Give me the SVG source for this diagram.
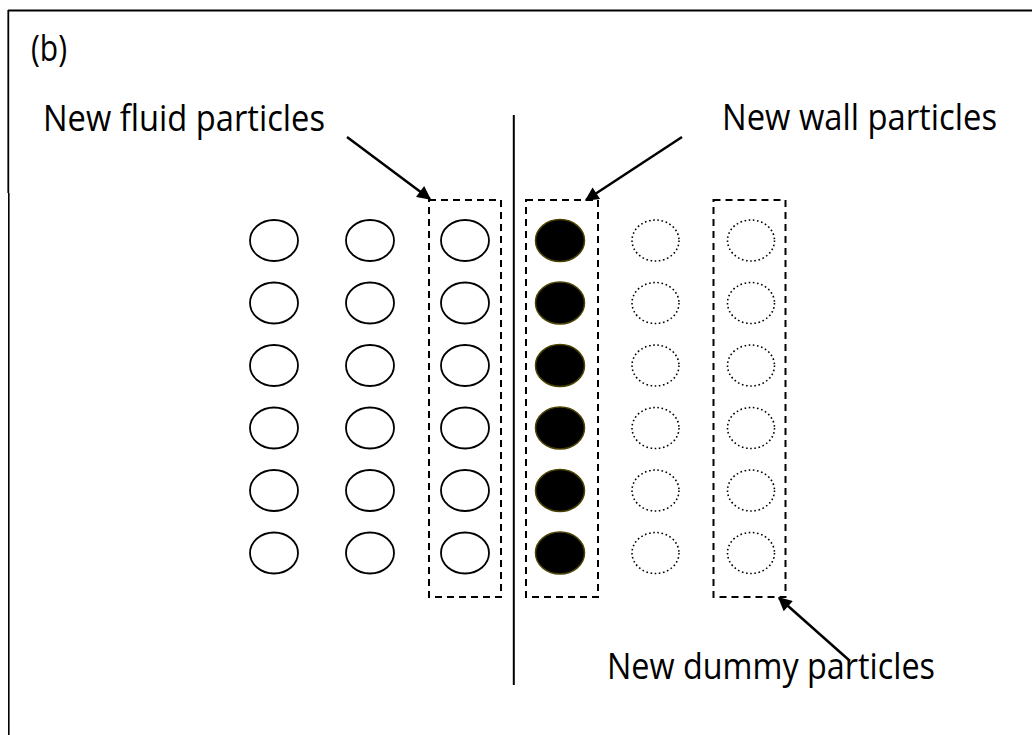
<svg xmlns="http://www.w3.org/2000/svg" width="1032" height="735" viewBox="0 0 1032 735">
<defs>
<style>
.lbl{font-family:"Open Sans","Liberation Sans",sans-serif;font-size:37px;fill:#000}
.fluid{fill:#fff;stroke:#000;stroke-width:1.8}
.wall{fill:#000;stroke:#4a4200;stroke-width:1.5}
.dummy{fill:none;stroke:#000;stroke-width:1.6;stroke-dasharray:1.6 2.6}
.box{fill:none;stroke:#000;stroke-width:2;stroke-dasharray:7 5}
.arr{stroke:#000;stroke-width:2.5;fill:none;marker-end:url(#ah)}
</style>
<marker id="ah" viewBox="0 0 10 10" refX="9" refY="5" markerWidth="6.5" markerHeight="5.5" markerUnits="strokeWidth" orient="auto">
<path d="M0,0 L10,5 L0,10 z" fill="#000"/>
</marker>
</defs>
<rect x="0" y="0" width="1032" height="735" fill="#fff"/>
<g id="frame">
<line x1="8" y1="10.5" x2="1032" y2="10.5" stroke="#000" stroke-width="1.8"/>
<line x1="8.3" y1="10" x2="8.3" y2="193" stroke="#000" stroke-width="1.8"/>
<line x1="8.8" y1="193" x2="8.8" y2="735" stroke="#000" stroke-width="1.6"/>
</g>
<g id="label-b"><text class="lbl" x="31" y="61" textLength="36" lengthAdjust="spacingAndGlyphs">(b)</text></g>
<g id="interface"><line x1="513.8" y1="115" x2="513.8" y2="685" stroke="#000" stroke-width="2"/></g>
<g id="fluid-particles">
<ellipse class="fluid" cx="274" cy="240.5" rx="24" ry="20.5"/>
<ellipse class="fluid" cx="274" cy="303" rx="24" ry="20.5"/>
<ellipse class="fluid" cx="274" cy="365.5" rx="24" ry="20.5"/>
<ellipse class="fluid" cx="274" cy="428" rx="24" ry="20.5"/>
<ellipse class="fluid" cx="274" cy="490.5" rx="24" ry="20.5"/>
<ellipse class="fluid" cx="274" cy="553" rx="24" ry="20.5"/>
<ellipse class="fluid" cx="370" cy="240.5" rx="24" ry="20.5"/>
<ellipse class="fluid" cx="370" cy="303" rx="24" ry="20.5"/>
<ellipse class="fluid" cx="370" cy="365.5" rx="24" ry="20.5"/>
<ellipse class="fluid" cx="370" cy="428" rx="24" ry="20.5"/>
<ellipse class="fluid" cx="370" cy="490.5" rx="24" ry="20.5"/>
<ellipse class="fluid" cx="370" cy="553" rx="24" ry="20.5"/>
</g>
<g id="new-fluid-particles">
<rect class="box" x="429" y="200" width="72" height="397"/>
<ellipse class="fluid" cx="465" cy="240.5" rx="24" ry="20.5"/>
<ellipse class="fluid" cx="465" cy="303" rx="24" ry="20.5"/>
<ellipse class="fluid" cx="465" cy="365.5" rx="24" ry="20.5"/>
<ellipse class="fluid" cx="465" cy="428" rx="24" ry="20.5"/>
<ellipse class="fluid" cx="465" cy="490.5" rx="24" ry="20.5"/>
<ellipse class="fluid" cx="465" cy="553" rx="24" ry="20.5"/>
</g>
<g id="new-wall-particles">
<rect class="box" x="526" y="200" width="72" height="397"/>
<ellipse class="wall" cx="560" cy="240.5" rx="24.5" ry="21"/>
<ellipse class="wall" cx="560" cy="303" rx="24.5" ry="21"/>
<ellipse class="wall" cx="560" cy="365.5" rx="24.5" ry="21"/>
<ellipse class="wall" cx="560" cy="428" rx="24.5" ry="21"/>
<ellipse class="wall" cx="560" cy="490.5" rx="24.5" ry="21"/>
<ellipse class="wall" cx="560" cy="553" rx="24.5" ry="21"/>
</g>
<g id="dummy-particles">
<ellipse class="dummy" cx="655.5" cy="240.5" rx="23.5" ry="20.5"/>
<ellipse class="dummy" cx="655.5" cy="303" rx="23.5" ry="20.5"/>
<ellipse class="dummy" cx="655.5" cy="365.5" rx="23.5" ry="20.5"/>
<ellipse class="dummy" cx="655.5" cy="428" rx="23.5" ry="20.5"/>
<ellipse class="dummy" cx="655.5" cy="490.5" rx="23.5" ry="20.5"/>
<ellipse class="dummy" cx="655.5" cy="553" rx="23.5" ry="20.5"/>
</g>
<g id="new-dummy-particles">
<rect class="box" x="713.5" y="200" width="72" height="397"/>
<ellipse class="dummy" cx="751" cy="240.5" rx="23.5" ry="20.5"/>
<ellipse class="dummy" cx="751" cy="303" rx="23.5" ry="20.5"/>
<ellipse class="dummy" cx="751" cy="365.5" rx="23.5" ry="20.5"/>
<ellipse class="dummy" cx="751" cy="428" rx="23.5" ry="20.5"/>
<ellipse class="dummy" cx="751" cy="490.5" rx="23.5" ry="20.5"/>
<ellipse class="dummy" cx="751" cy="553" rx="23.5" ry="20.5"/>
</g>
<g id="label-fluid"><text class="lbl" x="43" y="131" textLength="282" lengthAdjust="spacingAndGlyphs">New fluid particles</text></g>
<g id="label-wall"><text class="lbl" x="722" y="130" textLength="275" lengthAdjust="spacingAndGlyphs">New wall particles</text></g>
<g id="label-dummy"><text class="lbl" x="607" y="679" textLength="328" lengthAdjust="spacingAndGlyphs">New dummy particles</text></g>
<g id="connectors">
<line class="arr" x1="347" y1="137" x2="430" y2="199"/>
<line class="arr" x1="682" y1="137" x2="586" y2="200"/>
<line class="arr" x1="850" y1="661" x2="779" y2="598"/>
</g>
</svg>
